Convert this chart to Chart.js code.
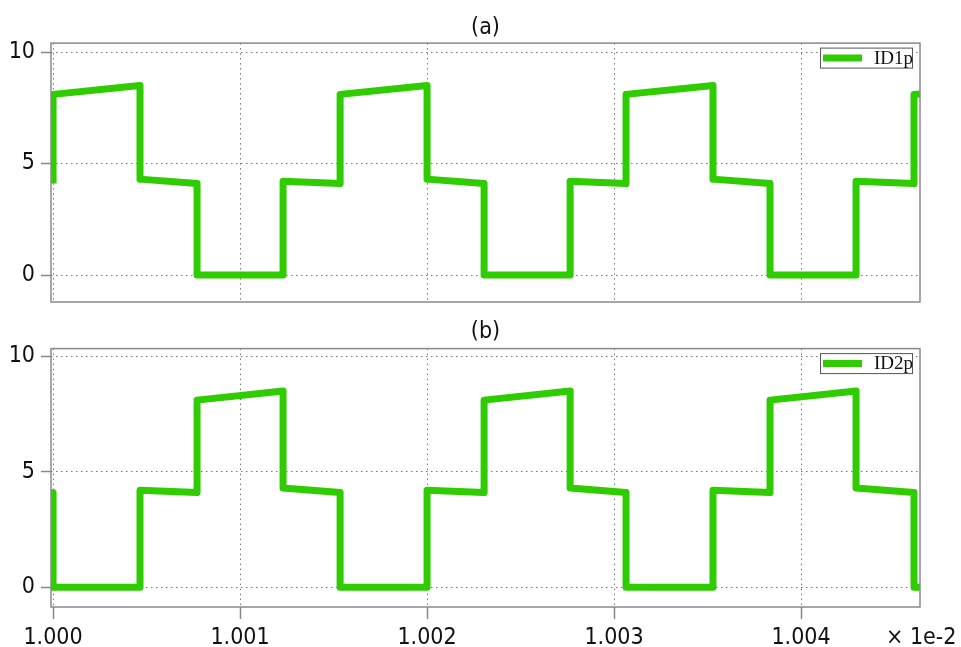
<!DOCTYPE html>
<html>
<head>
<meta charset="utf-8">
<script src="https://cdn.jsdelivr.net/npm/chart.js@4"></script>
<style>
  body { margin: 0; background: #fff; }
  #top { position: absolute; left: 0; top: 0; width: 961px; height: 310px; }
  #bottom { position: absolute; left: 0; top: 310px; width: 961px; height: 337px; }
</style>
</head>
<body>
<div id="top"><canvas id="chartA"></canvas></div>
<div id="bottom"><canvas id="chartB"></canvas></div>
<script>
// time in units of 1e-2 s, every switching edge listed twice (before / after)
const time = [1.000000, 1.000000, 1.000465, 1.000465, 1.000770, 1.000770, 1.001230, 1.001230,
              1.001535, 1.001535, 1.002000, 1.002000, 1.002305, 1.002305, 1.002765, 1.002765,
              1.003064, 1.003064, 1.003529, 1.003529, 1.003834, 1.003834, 1.004294, 1.004294,
              1.004604, 1.004604, 1.004636];

const id1p = [4.1, 8.1, 8.5, 4.3, 4.1, 0, 0, 4.2, 4.1, 8.1, 8.5, 4.3, 4.1, 0, 0, 4.2,
              4.1, 8.1, 8.5, 4.3, 4.1, 0, 0, 4.2, 4.1, 8.1, 8.12];

const id2p = [4.1, 0, 0, 4.2, 4.1, 8.1, 8.5, 4.3, 4.1, 0, 0, 4.2, 4.1, 8.1, 8.5, 4.3,
              4.1, 0, 0, 4.2, 4.1, 8.1, 8.5, 4.3, 4.1, 0, 0];

const xTicks = [1.000, 1.001, 1.002, 1.003, 1.004];
const yTicks = [0, 5, 10];

const green = '#2ecc00';
const fontName = '"DejaVu Sans Condensed", "DejaVu Sans"';
const tickFont = { family: fontName, size: 23 };

// frame round the plot, boxed legend, and the x multiplier
const framePlugin = {
  id: 'frame',
  afterDraw(chart) {
    const ctx = chart.ctx;
    const a = chart.chartArea;
    ctx.save();
    ctx.strokeStyle = '#8a8a8a';
    ctx.lineWidth = 1.5;
    ctx.strokeRect(a.left, a.top, a.right - a.left, a.bottom - a.top);

    // legend
    const ds = chart.data.datasets[0];
    const bx = a.right - 100, by = a.top + 4.5;
    ctx.fillStyle = '#fff';
    ctx.fillRect(bx, by, 93, 21);
    ctx.strokeStyle = '#555';
    ctx.lineWidth = 1;
    ctx.strokeRect(bx + 0.5, by + 0.5, 92, 20);
    ctx.strokeStyle = ds.borderColor;
    ctx.lineWidth = 7;
    ctx.beginPath();
    ctx.moveTo(bx + 3, by + 10.5);
    ctx.lineTo(bx + 42, by + 10.5);
    ctx.stroke();
    ctx.fillStyle = '#111';
    ctx.font = '19px "Liberation Serif"';
    ctx.textBaseline = 'middle';
    ctx.fillText(ds.label, bx + 54, by + 11);

    if (chart.options.plugins.frame.multiplier) {
      ctx.font = '23px ' + fontName;
      ctx.fillStyle = '#111';
      ctx.fillText(chart.options.plugins.frame.multiplier, 886, a.bottom + 31);
    }
    ctx.restore();
  }
};

function makeConfig(title, label, values, yMin, yMax, showX, pad) {
  return {
    type: 'line',
    data: {
      labels: time,
      datasets: [{
        label: label,
        data: time.map((t, i) => ({ x: t, y: values[i] })),
        borderColor: green,
        backgroundColor: green,
        borderWidth: 7,
        borderJoinStyle: 'round',
        pointRadius: 0,
        tension: 0,
        clip: 0
      }]
    },
    options: {
      animation: false,
      responsive: true,
      maintainAspectRatio: false,
      layout: { padding: { left: 0, right: 41, top: 0, bottom: pad } },
      plugins: {
        legend: { display: false },
        tooltip: { enabled: false },
        title: {
          display: true,
          text: title,
          fullSize: false,
          color: '#111',
          font: { family: fontName, size: 23, weight: 'normal' },
          padding: showX ? { top: 8, bottom: 3 } : { top: 14.5, bottom: 1 }
        },
        frame: { multiplier: showX ? '\u00d7 1e-2' : null }
      },
      scales: {
        x: {
          type: 'linear',
          min: 0.999989,
          max: 1.004636,
          afterBuildTicks: s => { s.ticks = xTicks.map(v => ({ value: v })); },
          afterFit: s => { s.height = showX ? 40 : 0; },
          ticks: {
            display: showX,
            color: '#111',
            font: tickFont,
            padding: 5,
            maxRotation: 0,
            callback: v => v.toFixed(3)
          },
          grid: {
            color: '#777',
            lineWidth: 1,
            drawTicks: showX,
            tickLength: 12,
            tickColor: '#888',
            tickWidth: 1.5
          },
          border: { display: false, dash: [1.5, 3.5] }
        },
        y: {
          min: yMin,
          max: yMax,
          afterBuildTicks: s => { s.ticks = yTicks.map(v => ({ value: v })); },
          afterFit: s => { s.width = 51; s.paddingTop = 0; s.paddingBottom = 0; },
          ticks: { color: '#111', font: tickFont, padding: 6 },
          grid: {
            color: '#777',
            lineWidth: 1,
            tickLength: 10,
            tickColor: '#888',
            tickWidth: 1.5
          },
          border: { display: false, dash: [1.5, 3.5] }
        }
      }
    },
    plugins: [framePlugin]
  };
}

var chartA = new Chart(document.getElementById('chartA'),
  makeConfig('(a)', 'ID1p', id1p, -1.21, 10.40, false, 8));
var chartB = new Chart(document.getElementById('chartB'),
  makeConfig('(b)', 'ID2p', id2p, -0.85, 10.33, true, 0));
</script>
</body>
</html>
